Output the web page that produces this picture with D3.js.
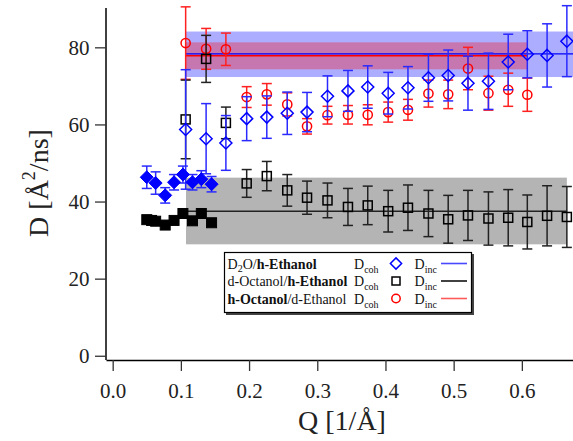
<!DOCTYPE html>
<html>
<head>
<meta charset="utf-8">
<script src="https://cdn.jsdelivr.net/npm/d3@7"></script>
<style>
  html, body { margin: 0; padding: 0; background: #fff; }
  svg { display: block; font-family: "Liberation Serif", "Times New Roman", serif; }
</style>
</head>
<body>
<div id="chart"></div>
<script>
// low-Q coherent points (filled markers)
const qBlueCoh = [0.050, 0.063, 0.077, 0.090, 0.103, 0.117, 0.130, 0.145];
const dBlueCoh = [46.3, 44.8, 41.6, 45.0, 47.0, 45.0, 45.8, 44.5];
const eBlueCoh = [2.9, 2.9, 2.0, 2.0, 2.2, 2.0, 2.2, 2.0];

const qBlackCoh = [0.050, 0.057, 0.063, 0.077, 0.090, 0.103, 0.117, 0.130, 0.145];
const dBlackCoh = [35.3, 35.1, 34.9, 33.9, 35.1, 36.9, 35.0, 36.9, 34.5];

// incoherent points (open markers)
const qInc = [0.107, 0.137, 0.166, 0.1965, 0.226, 0.256, 0.285, 0.315, 0.345, 0.374,
              0.404, 0.433, 0.463, 0.492, 0.521, 0.551, 0.580, 0.608, 0.637, 0.666];
const dBlueInc = [58.7, 56.3, 55.2, 61.5, 61.9, 62.9, 63.2, 67.3, 68.7, 69.7,
                  68.1, 69.5, 72.1, 72.7, 70.7, 71.2, 76.2, 78.2, 77.9, 81.6];
const eBlueInc = [15.5, 9.1, 7.1, 5.7, 5.5, 5.5, 5.1, 5.3, 5.3, 5.5,
                  5.4, 5.5, 6.1, 6.6, 7.0, 7.3, 7.2, 6.1, 8.2, 9.2];
const dBlackInc = [61.3, 77.0, 60.4, 44.7, 46.6, 42.9, 41.0, 40.3, 38.6, 39.0,
                   37.5, 38.4, 36.9, 35.4, 36.4, 35.6, 35.8, 34.7, 36.3, 36.0];
const eBlackInc = [10.2, 6.1, 4.1, 3.6, 3.8, 4.1, 4.3, 4.5, 4.8, 5.0,
                   5.4, 5.9, 6.0, 6.2, 6.5, 6.9, 7.3, 7.0, 7.8, 7.9];
const dRedInc = [81.1, 79.6, 79.5, 67.1, 67.8, 65.2, 59.5, 62.4, 62.5, 62.5,
                 63.2, 63.8, 68.0, 67.8, 74.5, 68.1, 69.0, 67.7];
const eRedInc = [9.4, 5.3, 4.2, 2.7, 2.8, 3.0, 2.0, 2.3, 2.4, 2.6,
                 2.6, 2.7, 3.5, 3.7, 5.5, 4.4, 4.3, 4.3];

// mean values with spread bands: [qStart, qEnd, low, mean, high]
const bandBlue  = [0.1075, 0.675, 72.3, 78.3, 84.1];
const bandRed   = [0.1075, 0.608, 74.3, 77.8, 81.3];
const bandBlack = [0.1075, 0.666, 28.9, 37.5, 46.2];

const xTicks = [0, 0.1, 0.2, 0.3, 0.4, 0.5, 0.6];
const yTicks = [0, 20, 40, 60, 80];

const W = 573, H = 441;
const svg = d3.select("#chart").append("svg").attr("width", W).attr("height", H);

const x = d3.scaleLinear().domain([-0.0098, 0.675]).range([106, 573]);
const y = d3.scaleLinear().domain([-1.1, 90.2]).range([360, 8]);

const BLUE = "#0000ff", BLUE_E = "#2a2aff";
const RED = "#ff0000", RED_E = "#ff2020";
const BLK = "#000", BLK_E = "#222";

// bands
function band(b, fill){
  svg.append("rect")
    .attr("x", x(b[0])).attr("width", x(b[1]) - x(b[0]))
    .attr("y", y(b[4])).attr("height", y(b[2]) - y(b[4]))
    .attr("fill", fill);
}
band(bandBlack, "#b4b4b4");
band(bandBlue, "rgba(0,0,255,0.32)");
band(bandRed, "rgba(255,0,0,0.31)");

function meanLine(b, col){
  svg.append("line")
    .attr("x1", x(b[0])).attr("x2", x(b[1]))
    .attr("y1", y(b[3])).attr("y2", y(b[3]))
    .attr("stroke", col).attr("stroke-width", 1.4);
}
meanLine(bandBlack, "#222");
meanLine(bandBlue, BLUE);
meanLine(bandRed, RED);

// error bars
function errBars(qs, ds, es, col){
  const g = svg.append("g").attr("stroke", col).attr("stroke-width", 1.5).attr("fill", "none");
  ds.forEach((d, i) => {
    const cx = x(qs[i]), y0 = y(d - es[i]), y1 = y(d + es[i]);
    g.append("line").attr("x1", cx).attr("x2", cx).attr("y1", y0).attr("y2", y1);
    g.append("line").attr("x1", cx - 5).attr("x2", cx + 5).attr("y1", y0).attr("y2", y0);
    g.append("line").attr("x1", cx - 5).attr("x2", cx + 5).attr("y1", y1).attr("y2", y1);
  });
}

function diamondPath(r){ return `M0,${-r}L${r},0L0,${r}L${-r},0Z`; }

function markers(qs, ds, shape, col, filled){
  const g = svg.append("g");
  ds.forEach((d, i) => {
    const t = `translate(${x(qs[i])},${y(d)})`;
    let m;
    if(shape === "diamond"){
      m = g.append("path").attr("d", diamondPath(filled ? 6.5 : 6)).attr("transform", t);
    } else if(shape === "square"){
      const s = filled ? 10 : 9;
      m = g.append("rect").attr("x", -s/2).attr("y", -s/2).attr("width", s).attr("height", s).attr("transform", t);
    } else {
      m = g.append("circle").attr("r", 4.6).attr("transform", t);
    }
    m.attr("fill", filled ? col : "none").attr("stroke", col).attr("stroke-width", filled ? 1 : 1.5);
  });
}

// red series
errBars(qInc, dRedInc, eRedInc, RED_E);
markers(qInc, dRedInc, "circle", RED, false);
// black series
errBars(qInc, dBlackInc, eBlackInc, BLK_E);
markers(qInc, dBlackInc, "square", BLK, false);
markers(qBlackCoh, dBlackCoh, "square", BLK, true);
// blue series
errBars(qInc, dBlueInc, eBlueInc, BLUE_E);
markers(qInc, dBlueInc, "diamond", BLUE, false);
errBars(qBlueCoh, dBlueCoh, eBlueCoh, BLUE_E);
markers(qBlueCoh, dBlueCoh, "diamond", BLUE, true);

// axes
const yAxis = svg.append("g").attr("transform", "translate(106,0)")
  .call(d3.axisLeft(y).tickValues(yTicks).tickSize(11).tickPadding(5.5).tickSizeOuter(0));
const xAxis = svg.append("g").attr("transform", "translate(0,360)")
  .call(d3.axisBottom(x).tickValues(xTicks).tickFormat(d3.format(".1f")).tickSize(11).tickPadding(12).tickSizeOuter(0));
[yAxis, xAxis].forEach(a => {
  a.select(".domain").attr("stroke", "#000").attr("stroke-width", 1.5);
  a.selectAll(".tick line").attr("stroke", "#333").attr("stroke-width", 1.3);
  a.selectAll("text").attr("fill", "#222").style("font-size", "21px")
    .style("font-family", "'Liberation Serif', serif");
});
yAxis.select(".domain").attr("d", "M0,8V360");

// axis titles
svg.append("text")
  .attr("x", 342).attr("y", 430)
  .attr("text-anchor", "middle")
  .style("font-size", "28px").attr("fill", "#222")
  .text("Q [1/Å]");

const yl = svg.append("text")
  .attr("transform", "translate(48,183) rotate(-90)")
  .attr("text-anchor", "middle")
  .style("font-size", "28px").attr("fill", "#222");
yl.append("tspan").text("D [Å");
yl.append("tspan").attr("dy", -13).style("font-size", "18px").text("2");
yl.append("tspan").attr("dy", 13).text("/ns]");

// legend
const lg = svg.append("g");
lg.append("rect").attr("x", 226).attr("y", 254).attr("width", 248).attr("height", 61).attr("fill", "#444");
lg.append("rect").attr("x", 224.5).attr("y", 252.5).attr("width", 247).attr("height", 60)
  .attr("fill", "#fff").attr("stroke", "#000").attr("stroke-width", 1.2);

const FS = "14px", SUB = "10px";
const rowY = [268.5, 286, 303.5];

// row labels
const t1 = lg.append("text").attr("x", 227.5).attr("y", rowY[0]).style("font-size", FS).attr("fill", "#111");
t1.append("tspan").text("D");
t1.append("tspan").attr("dy", 3.5).style("font-size", SUB).text("2");
t1.append("tspan").attr("dy", -3.5).text("O/");
t1.append("tspan").style("font-weight", "bold").text("h-Ethanol");

const t2 = lg.append("text").attr("x", 227.5).attr("y", rowY[1]).style("font-size", FS).attr("fill", "#111");
t2.append("tspan").text("d-Octanol/");
t2.append("tspan").style("font-weight", "bold").text("h-Ethanol");

const t3 = lg.append("text").attr("x", 227.5).attr("y", rowY[2]).style("font-size", FS).attr("fill", "#111");
t3.append("tspan").style("font-weight", "bold").text("h-Octanol");
t3.append("tspan").text("/d-Ethanol");

const legendMarks = [
  { shape: "diamond", col: BLUE, line: "#4848ff" },
  { shape: "square", col: BLK, line: "#111" },
  { shape: "circle", col: RED, line: "#ff5a5a" }
];
legendMarks.forEach((r, i) => {
  const by = rowY[i];
  [["coh", 354], ["inc", 414.5]].forEach(([sub, sx]) => {
    const d = lg.append("text").attr("x", sx).attr("y", by).style("font-size", FS).attr("fill", "#111");
    d.append("tspan").text("D");
    d.append("tspan").attr("dy", 4).style("font-size", SUB).text(sub);
  });
  const my = by - 5;
  const tr = `translate(396,${my})`;
  let m;
  if(r.shape === "diamond") m = lg.append("path").attr("d", diamondPath(5.6));
  else if(r.shape === "square") m = lg.append("rect").attr("x", -4).attr("y", -4).attr("width", 8).attr("height", 8);
  else m = lg.append("circle").attr("r", 4.2);
  m.attr("transform", tr).attr("fill", "none").attr("stroke", r.col).attr("stroke-width", 1.5);
  lg.append("line").attr("x1", 441).attr("x2", 467).attr("y1", my).attr("y2", my)
    .attr("stroke", r.line).attr("stroke-width", 1.6);
});
</script>
</body>
</html>
